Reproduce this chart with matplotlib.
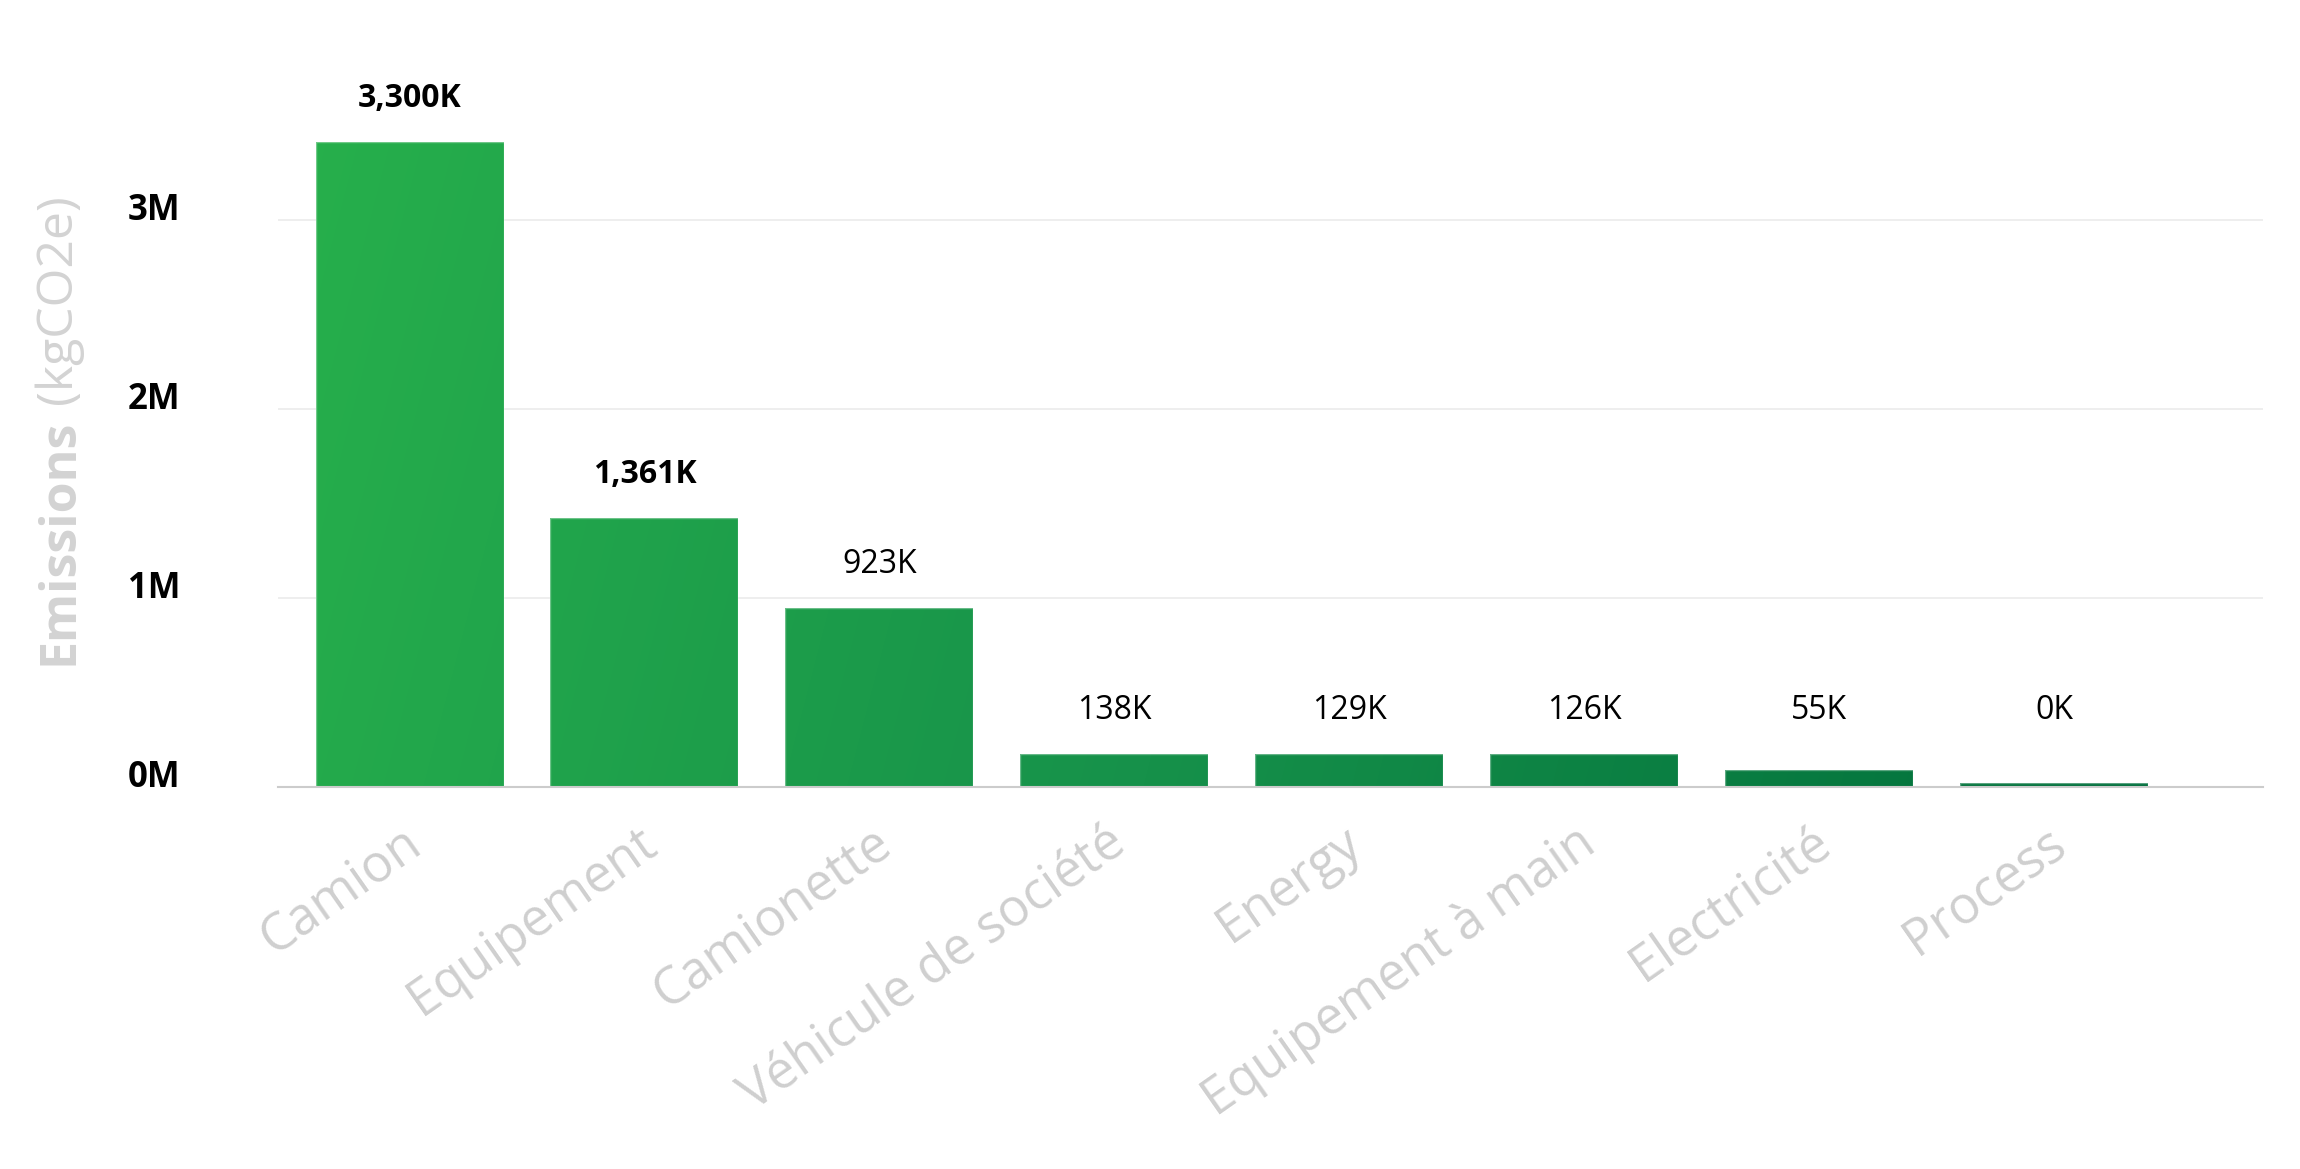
import numpy as np
import matplotlib.pyplot as plt
import matplotlib.transforms as mtransforms
from matplotlib.colors import LinearSegmentedColormap

# data (bar heights, in K kgCO2e) and the printed labels
categories = ['Camion', 'Equipement', 'Camionette', 'Véhicule de société',
              'Energy', 'Equipement à main', 'Electricité', 'Process']
heights_k = [3416, 1425, 947, 175, 175, 175, 89, 20]
value_labels = ['3,300K', '1,361K', '923K', '138K', '129K', '126K', '55K', '0K']
bold_labels = [True, True, False, False, False, False, False, False]
yticks_m = [0, 1, 2, 3]

plt.rcParams['font.family'] = ['Open Sans', 'DejaVu Sans']

W, H, DPI = 2300, 1169, 100
fig = plt.figure(figsize=(W / DPI, H / DPI), dpi=DPI)
ax = fig.add_axes([278 / W, 1 - 787 / H, (2263 - 278) / W, 680 / H])

x = np.arange(len(categories))
vals = np.array(heights_k) * 1000.0
ymax = 3.6e6

bars = ax.bar(x, vals, width=0.8, color='none', edgecolor=(1, 1, 1, 0.35),
              linewidth=1, zorder=3)

# diagonal green gradient shared by all bars, clipped to each bar
cmap = LinearSegmentedColormap.from_list('grn', ['#27B04C', '#16914A', '#006E3B'])
gx = np.linspace(-0.5, 7.5, 400)
gy = np.linspace(0, ymax, 200)
GX, GY = np.meshgrid(gx, gy)
grad = ((GX + 0.5) + 0.75 * (1 - GY / ymax)) / 8.75
for b in bars:
    im = ax.imshow(grad, extent=(-0.5, 7.5, 0, ymax), origin='lower',
                   aspect='auto', cmap=cmap, vmin=0, vmax=1, zorder=2,
                   interpolation='bilinear')
    im.set_clip_path(b)

# small bars share one label level
label_floor = 175e3
for xi, v, lab, bold in zip(x, vals, value_labels, bold_labels):
    ax.annotate(lab, (xi, max(v, label_floor)), xytext=(0, 25),
                textcoords='offset points', ha='center', va='baseline',
                fontsize=23, fontweight='bold' if bold else 'normal',
                color='black')

ax.set_xlim(-0.56, 7.89)
ax.set_ylim(0, ymax)

ax.set_yticks([m * 1e6 for m in yticks_m])
ax.set_yticklabels([f'{m}M' for m in yticks_m], fontsize=25, fontweight='bold')
for lbl in ax.get_yticklabels():
    lbl.set_va('baseline')
ax.tick_params(axis='y', length=0, pad=70)
ax.yaxis.grid(True, color='#EBEBEB', linewidth=1.2)
ax.set_axisbelow(True)

ax.set_xticks(x)
ax.set_xticklabels(categories, rotation=35, ha='right', va='top',
                   rotation_mode='anchor', fontsize=37, color='#CFCFCF')
ax.tick_params(axis='x', length=0, pad=22)
shift = mtransforms.ScaledTranslation(-8 / DPI, 0, fig.dpi_scale_trans)
for lbl in ax.get_xticklabels():
    lbl.set_transform(lbl.get_transform() + shift)

for s in ['top', 'right', 'left']:
    ax.spines[s].set_visible(False)
ax.spines['bottom'].set_color('#CCCCCC')
ax.spines['bottom'].set_linewidth(1.5)
ax.spines['bottom'].set_zorder(4)

# y axis title: bold "Emissions" + regular "(kgCO2e)"
t1 = fig.text(85 / W, 1 - 665 / H, 'Emissions', rotation=90, ha='right',
              va='bottom', fontsize=36, fontweight='bold', color='#D3D3D3')
fig.canvas.draw()
ax.annotate(' (kgCO2e)', xy=(1.0, 1.0), xycoords=t1, ha='right', va='bottom',
            rotation=90, fontsize=36, color='#D3D3D3', annotation_clip=False)

fig.savefig('out.png', dpi=DPI, facecolor='white')
